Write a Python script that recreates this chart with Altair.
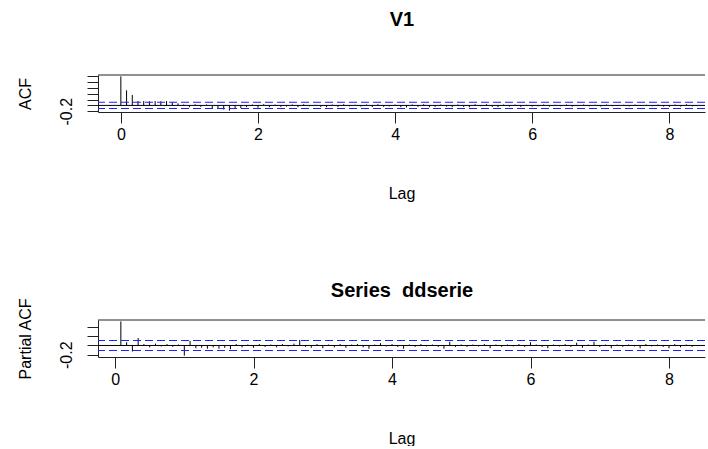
import altair as alt
import pandas as pd

# ---------------- data ----------------
FREQ = 12  # lag unit: 12 lags per unit (monthly series)

acf_values = [
    1.00, 0.52, 0.36, 0.15, 0.15, 0.14, 0.15, 0.14, 0.15, 0.12, 0.07, 0.03, -0.06,
    0.04, -0.05, 0.03, -0.09, -0.12, -0.14, -0.18, -0.12, -0.10, -0.06, 0.03, -0.08,
    0.04, -0.06, 0.03, -0.05, -0.04, 0.03, -0.06, 0.04, -0.03, 0.02, -0.05, -0.06,
    0.03, -0.05, 0.04, -0.03, 0.02, -0.04, 0.03, -0.06, 0.04, -0.05, -0.03, 0.03,
    -0.06, -0.07, 0.03, -0.05, 0.04, -0.06, -0.05, 0.03, -0.04, -0.06, 0.03, -0.05,
    -0.06, 0.04, -0.03, 0.04, -0.05, -0.06, 0.03, -0.04, 0.03, -0.05, 0.02, -0.04,
    -0.03, 0.03, -0.04, 0.02, -0.03, 0.03, -0.04, -0.02, 0.03, -0.03, 0.02, -0.04,
    0.03, -0.03, -0.02, 0.02, -0.03, 0.03, -0.02, 0.02, -0.03, 0.03, -0.04, -0.05,
    0.03, -0.04, 0.04, -0.03,
]  # lags 0..100

pacf_values = [
    0.52, 0.07, -0.13, 0.16, 0.03, -0.04, 0.04, -0.02, 0.03, -0.03, 0.02, -0.22,
    0.10, -0.06, -0.05, -0.07, -0.04, -0.07, -0.05, -0.08, 0.03, -0.04, 0.02, -0.05,
    0.03, -0.03, 0.02, -0.04, 0.03, -0.02, 0.04, 0.12, -0.03, -0.05, 0.03, -0.06,
    0.02, -0.04, 0.03, -0.05, 0.02, 0.03, -0.04, -0.07, 0.02, 0.05, -0.02, 0.03,
    -0.03, -0.07, 0.02, -0.03, 0.03, -0.02, 0.02, -0.03, -0.07, 0.08, -0.03, 0.02,
    -0.03, 0.02, -0.02, 0.03, -0.06, 0.02, -0.03, 0.02, -0.02, 0.03, -0.03, 0.07,
    0.02, -0.03, -0.06, 0.02, -0.02, 0.03, -0.03, 0.06, -0.05, 0.02, 0.08, -0.03,
    0.02, -0.06, 0.02, -0.03, 0.02, -0.02, -0.06, 0.03, -0.02, 0.02, -0.03, -0.06,
    0.03, -0.04, 0.02, -0.03,
]  # lags 1..100

ci_limit = 0.108
acf_y_ticks = [-0.2, 0.0, 0.2, 0.4, 0.6, 0.8, 1.0]
pacf_y_ticks = [-0.2, 0.0, 0.2, 0.4]
x_ticks = [0, 2, 4, 6, 8]
panel_titles = ["V1", "Series\u00a0 ddserie"]
y_titles = ["ACF", "Partial ACF"]
x_title = "Lag"

acf_df = pd.DataFrame({"k": list(range(0, len(acf_values))), "value": acf_values})
acf_df["lag"] = acf_df["k"] / FREQ
pacf_df = pd.DataFrame({"k": list(range(1, len(pacf_values) + 1)), "value": pacf_values})
pacf_df["lag"] = pacf_df["k"] / FREQ

FONT = "Liberation Sans"
W = 607
H = 37


def panel(df, title, ytitle, xdom, ydom, yticks, title_y):
    yscale = alt.Scale(domain=ydom, nice=False, zero=False)
    yaxis = alt.Axis(
        values=yticks, title=ytitle, grid=False,
        labelExpr="abs(datum.value + 0.2) < 0.000001 ? '-0.2' : ''",
        labelAngle=270, labelAlign="center", labelBaseline="alphabetic",
        tickSize=11, labelPadding=16,
        titleX=-68, titleY=H / 2, titleAngle=270, titleAlign="center",
        titleBaseline="alphabetic",
    )
    x = alt.X(
        "lag:Q",
        scale=alt.Scale(domain=xdom, nice=False, zero=False),
        axis=alt.Axis(
            values=x_ticks, format="d", title=x_title, grid=False,
            tickSize=11, labelPadding=3, titlePadding=43,
        ),
    )
    bars = alt.Chart(df).mark_rule(color="black", strokeWidth=1).encode(
        x=x, y=alt.Y("value:Q", scale=yscale, axis=yaxis), y2=alt.datum(0)
    )
    zero = alt.Chart(pd.DataFrame({"value": [0.0]})).mark_rule(
        color="black", strokeWidth=1
    ).encode(y=alt.Y("value:Q", scale=yscale, axis=yaxis))
    cis = alt.Chart(pd.DataFrame({"value": [ci_limit, -ci_limit]})).mark_rule(
        color="#2020ff", strokeWidth=1.1, strokeDash=[8, 4]
    ).encode(y=alt.Y("value:Q", scale=yscale, axis=yaxis))
    top = alt.Chart(pd.DataFrame({"value": [0]})).mark_rule(
        color="#222", strokeWidth=1
    ).encode(x=alt.value(0), x2=alt.value(W), y=alt.value(0))
    ttl = alt.Chart(pd.DataFrame({"t": [title]})).mark_text(
        font=FONT, fontSize=20, fontWeight="bold", align="center",
        baseline="alphabetic", color="black",
    ).encode(text="t:N", x=alt.value(304), y=alt.value(title_y))
    return alt.layer(bars, zero, cis, top, ttl).properties(width=W, height=H)


p1 = panel(acf_df, panel_titles[0], y_titles[0], [-0.3333, 8.52],
           [-0.227, 1.047], acf_y_ticks, -49)
p2 = panel(pacf_df, panel_titles[1], y_titles[1], [-0.2467, 8.52],
           [-0.249, 0.551], pacf_y_ticks, -23)

chart = (
    alt.vconcat(p1, p2, spacing=80)
    .properties(padding={"left": 16, "top": 10, "right": 0, "bottom": 0})
    .configure_view(strokeWidth=0)
    .configure_axis(
        labelFont=FONT, titleFont=FONT, labelFontSize=16, titleFontSize=16,
        titleFontWeight="normal", labelColor="black", titleColor="black",
        domainColor="#222", tickColor="#222", domainWidth=1, tickWidth=1,
    )
)

chart.save("out.html", embed_options={"renderer": "svg", "actions": False})
